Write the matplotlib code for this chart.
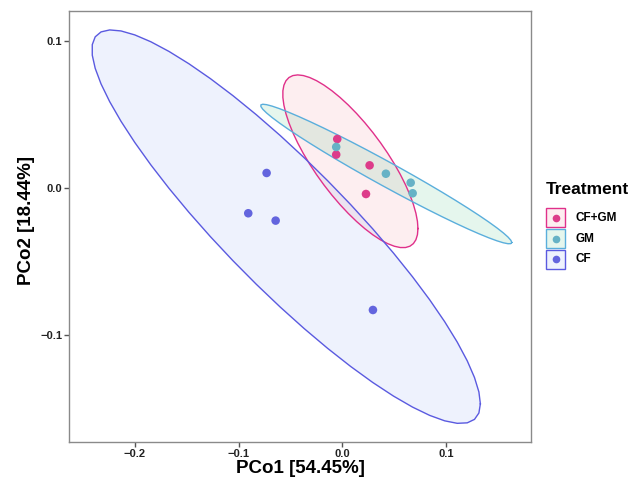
import numpy as np
import matplotlib
matplotlib.use("Agg")
import matplotlib.pyplot as plt
from matplotlib.patches import Rectangle

plt.rcParams['font.family'] = ['Liberation Sans', 'DejaVu Sans']

# PCoA scores
groups = ['CF+GM', 'GM', 'CF']
pco1 = {
    'CF+GM': [-0.0048, -0.0058, 0.0264, 0.0229],
    'GM':    [-0.0058, 0.0421, 0.0660, 0.0679],
    'CF':    [-0.0729, -0.0906, -0.0642, 0.0296],
}
pco2 = {
    'CF+GM': [0.0333, 0.0227, 0.0154, -0.0041],
    'GM':    [0.0279, 0.0097, 0.0036, -0.0036],
    'CF':    [0.0102, -0.0172, -0.0222, -0.0830],
}
point_col = {'CF+GM': '#DD3C8A', 'GM': '#66B2C6', 'CF': '#6365DE'}
edge_col = {'CF+GM': '#E0308A', 'GM': '#5AAEDC', 'CF': '#5A5AE0'}
fill_col = {'CF+GM': '#F46070', 'GM': '#05AF55', 'CF': '#6088F0'}
fill_alpha = 0.1


def cov_trob(x, nu=5, maxit=25, tol=0.01):
    # port of MASS::cov.trob (what stat_ellipse type="t" uses)
    n, p = x.shape
    wt = np.ones(n)
    loc = x.mean(axis=0)
    w = np.sqrt(wt)
    for it in range(maxit):
        w0 = w
        X = x - loc
        u, d, vt = np.linalg.svd(np.sqrt(w / w.sum())[:, None] * X, full_matrices=False)
        wX = X @ vt.T @ np.diag(1 / d)
        Q = (wX ** 2).sum(axis=1)
        w = wt * (nu + p) / (nu + Q)
        loc = (w[:, None] * x).sum(axis=0) / w.sum()
        if np.all(np.abs(w - w0) < tol):
            break
    cov = (np.sqrt(w)[:, None] * X).T @ (np.sqrt(w)[:, None] * X) / wt.sum()
    return cov, loc


def ellipse_t(xs, ys, level=0.95, segments=51):
    data = np.column_stack([xs, ys])
    cov, center = cov_trob(data)
    dfd = len(xs) - 1
    # F(2, dfd) quantile has a closed form
    qf = dfd / 2 * ((1 - level) ** (-2 / dfd) - 1)
    radius = np.sqrt(2 * qf)
    ang = np.linspace(0, 2 * np.pi, segments + 1)
    circ = np.column_stack([np.cos(ang), np.sin(ang)])
    R = np.linalg.cholesky(cov).T
    return center + radius * circ @ R


fig = plt.figure(figsize=(6.37, 4.84), dpi=100)
ax = fig.add_axes([0.109, 0.0868, 0.7246, 0.8905])

for g in groups:
    e = ellipse_t(pco1[g], pco2[g])
    ax.fill(e[:, 0], e[:, 1], facecolor=fill_col[g], alpha=fill_alpha, edgecolor='none', zorder=1)
    ax.plot(e[:, 0], e[:, 1], color=edge_col[g], lw=1.0, zorder=2)

for g in groups:
    ax.scatter(pco1[g], pco2[g], s=38, color=point_col[g], edgecolor='none', zorder=3)

ax.set_xlim(-0.263, 0.182)
ax.set_ylim(-0.1728, 0.1204)
ax.set_xticks([-0.2, -0.1, 0.0, 0.1])
ax.set_yticks([-0.1, 0.0, 0.1])
ax.set_xticklabels(['\u22120.2', '\u22120.1', '0.0', '0.1'])
ax.set_yticklabels(['\u22120.1', '0.0', '0.1'])
for s in ax.spines.values():
    s.set_color('#8a8a8a')
    s.set_linewidth(1.0)
ax.tick_params(length=3.5, width=1.0, color='#555555', labelsize=8, pad=1.5)
for lab in ax.get_xticklabels() + ax.get_yticklabels():
    lab.set_fontweight('bold')
    lab.set_color('#222222')
ax.set_xlabel('PCo1 [54.45%]', fontsize=13.5, fontweight='bold', va='center')
ax.xaxis.set_label_coords(0.5, -0.061)
ax.set_ylabel('PCo2 [18.44%]', fontsize=13.5, fontweight='bold', labelpad=3)
ax.yaxis.set_label_coords(-0.075, 0.515)

# legend drawn by hand, ggplot style keys
fig.text(546 / 637, 1 - 190 / 484, 'Treatment', fontsize=12.5, fontweight='bold',
         ha='left', va='center')
key_w, key_h = 19 / 637, 19 / 484
for i, g in enumerate(groups):
    yc = 1 - (218 + i * 20.5) / 484
    x0 = 546 / 637
    fig.patches.append(Rectangle((x0, yc - key_h / 2), key_w, key_h, transform=fig.transFigure,
                                 facecolor=fill_col[g], alpha=fill_alpha, edgecolor='none'))
    fig.patches.append(Rectangle((x0, yc - key_h / 2), key_w, key_h, transform=fig.transFigure,
                                 facecolor='none', edgecolor=edge_col[g], lw=1.0))
    fig.lines.append(plt.Line2D([x0 + key_w / 2], [yc], transform=fig.transFigure, marker='o',
                                ms=5.5, color=point_col[g], mec='none', ls=''))
    fig.text(575 / 637, yc, g, fontsize=8.5, fontweight='bold', ha='left', va='center')

fig.savefig('out.png', dpi=100)
